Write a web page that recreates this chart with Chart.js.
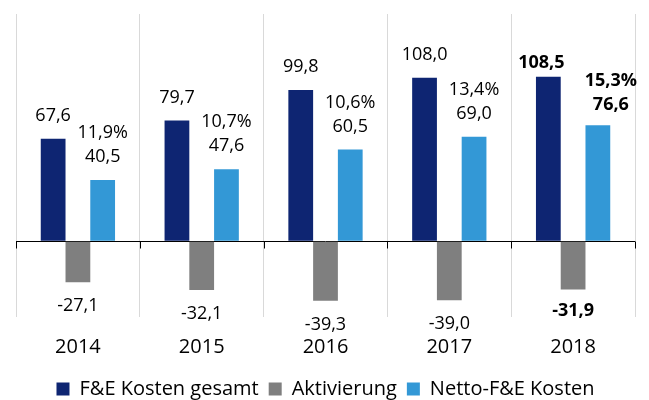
<!DOCTYPE html>
<html lang="de">
<head>
<meta charset="utf-8">
<script src="https://cdn.jsdelivr.net/npm/chart.js@4"></script>
<style>
  html, body { margin: 0; padding: 0; background: #fff; }
  #wrap { width: 649px; height: 400px; position: relative; }
</style>
</head>
<body>
<div id="wrap"><canvas id="chart"></canvas></div>
<script>
const jahre       = ["2014", "2015", "2016", "2017", "2018"];
const kosten      = [67.6, 79.7, 99.8, 108.0, 108.5];
const aktivierung = [-27.1, -32.1, -39.3, -39.0, -31.9];
const netto       = [40.5, 47.6, 60.5, 69.0, 76.6];
const quote       = [11.9, 10.7, 10.6, 13.4, 15.3];

const FARBEN = {
  navy:  "#0e2572",
  grau:  "#7f7f7f",
  blau:  "#3398d6",
  gitter: "#d9d9d9",
};

const SCHRIFT = "'Open Sans', sans-serif";

function fmt(v) {
  return v.toFixed(1).replace(".", ",");
}

// Werte an die Balken schreiben (letztes Jahr fett, etwas versetzt)
const wertePlugin = {
  id: "werte",
  afterDatasetsDraw(chart) {
    const ctx = chart.ctx;
    ctx.save();
    ctx.fillStyle = "#000";
    ctx.textAlign = "center";
    ctx.textBaseline = "middle";
    chart.data.datasets.forEach((ds, di) => {
      chart.getDatasetMeta(di).data.forEach((bar, i) => {
        const fett = i === jahre.length - 1;
        ctx.font = (fett ? "bold " : "") + "18px " + SCHRIFT;
        const txt = fmt(ds.data[i]);
        if (di === 1) {
          ctx.fillText(txt, bar.x, bar.y + (fett ? 21 : 24));
        } else if (di === 0) {
          ctx.fillText(txt, bar.x - (fett ? 7 : 0), bar.y - (fett ? 14 : 23));
        } else {
          const dx = fett ? 13 : 0;
          const dy = fett ? 3 : 0;
          ctx.fillText(fmt(quote[i]) + "%", bar.x + dx, bar.y - 47 + dy);
          ctx.fillText(txt, bar.x + dx, bar.y - 23 + dy);
        }
      });
    });
    ctx.restore();
  }
};

// kleine Striche unter der Nulllinie an den Kategoriegrenzen
const nullStriche = {
  id: "nullStriche",
  afterDraw(chart) {
    const { ctx, scales: { x, y } } = chart;
    const y0 = Math.round(y.getPixelForValue(0)) + 0.5;
    const halb = (x.getPixelForValue(1) - x.getPixelForValue(0)) / 2;
    ctx.save();
    ctx.strokeStyle = "#000";
    ctx.lineWidth = 1;
    ctx.beginPath();
    for (let i = 0; i <= jahre.length; i++) {
      const px = Math.round(x.getPixelForValue(i) - halb) + 0.5;
      ctx.moveTo(px, y0);
      ctx.lineTo(px, y0 + 7);
    }
    ctx.stroke();
    ctx.restore();
  }
};

new Chart(document.getElementById("chart"), {
  type: "bar",
  data: {
    labels: jahre,
    datasets: [
      { label: "F&E Kosten gesamt", data: kosten,      backgroundColor: FARBEN.navy },
      { label: "Aktivierung",       data: aktivierung, backgroundColor: FARBEN.grau },
      { label: "Netto-F&E Kosten",  data: netto,       backgroundColor: FARBEN.blau },
    ]
  },
  options: {
    responsive: true,
    maintainAspectRatio: false,
    animation: false,
    datasets: { bar: { categoryPercentage: 0.6, barPercentage: 1.0 } },
    layout: { padding: { left: 16, right: 14, top: 14, bottom: -9 } },
    plugins: {
      legend: {
        position: "bottom",
        labels: {
          color: "#000",
          font: { family: SCHRIFT, size: 20 },
          boxWidth: 13,
          boxHeight: 13,
          padding: 10,
        }
      },
      tooltip: { enabled: false }
    },
    scales: {
      x: {
        grid: { color: FARBEN.gitter, drawTicks: false },
        border: { display: false },
        ticks: { color: "#000", font: { family: SCHRIFT, size: 20 }, padding: 18 },
        afterFit: axis => { axis.height = 52; }
      },
      y: {
        min: -50,
        max: 150,
        grid: {
          drawTicks: false,
          color: c => c.tick && c.tick.value === 0 ? "#000" : "transparent",
        },
        border: { display: false },
        ticks: { display: false, stepSize: 50 }
      }
    }
  },
  plugins: [wertePlugin, nullStriche]
});
</script>
</body>
</html>
